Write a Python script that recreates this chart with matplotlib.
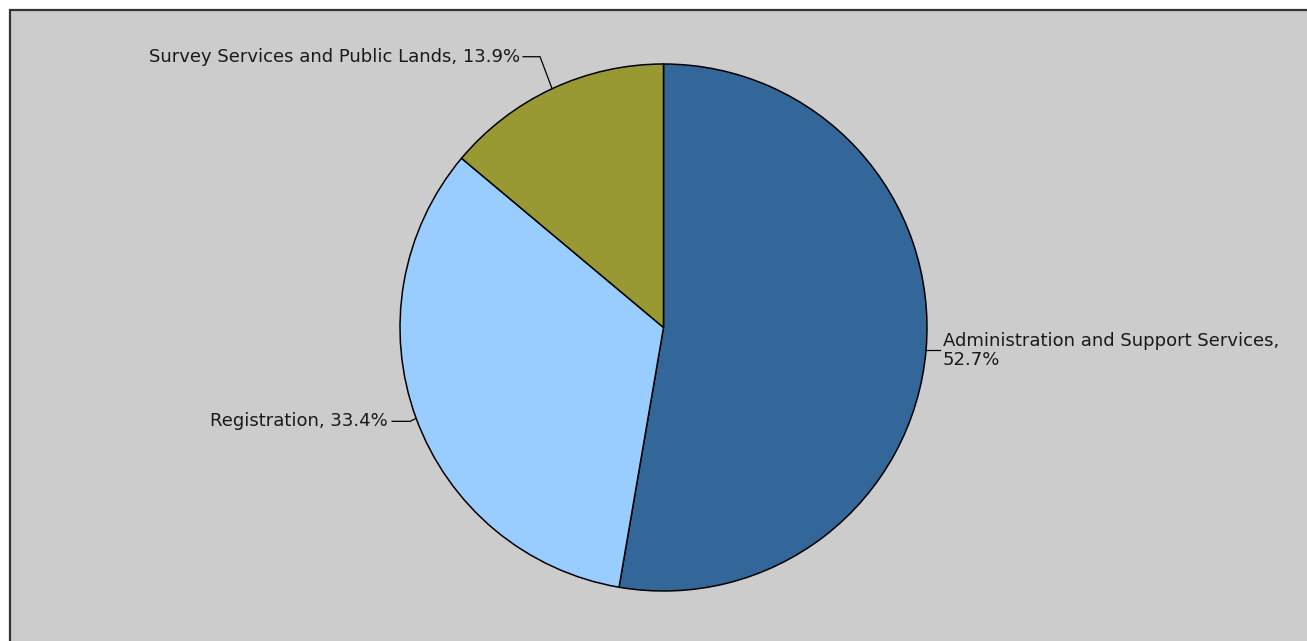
import numpy as np
import matplotlib
matplotlib.use("Agg")
import matplotlib.pyplot as plt
from matplotlib.patches import Rectangle

categories = ["Administration and Support Services", "Registration", "Survey Services and Public Lands"]
values = [52.7, 33.4, 13.9]
colors = ["#336699", "#99ccff", "#999933"]

W, H = 1307, 641
fig = plt.figure(figsize=(W / 100, H / 100), dpi=100)
fig.patch.set_facecolor("white")
ax = fig.add_axes([0, 0, 1, 1])
ax.set_xlim(0, W)
ax.set_ylim(0, H)
ax.set_aspect("equal")
ax.axis("off")

# background panel with border (top/left visible)
ax.add_patch(Rectangle((10, -20), W + 20, H - 10 + 20, facecolor="#cccccc",
                       edgecolor="#333333", lw=1.6, zorder=0))

cx, cy, r = 663.5, H - 327.5, 263.5
wedges, _ = ax.pie(values, colors=colors, startangle=90, counterclock=False,
                   center=(cx, cy), radius=r, frame=True,
                   wedgeprops=dict(edgecolor="black", linewidth=1.1))
ax.set_xlim(0, W)
ax.set_ylim(0, H)
ax.axis("off")

fs = 13.0
tcol = "#1a1a1a"

def edge_pt(w):
    a = np.deg2rad((w.theta1 + w.theta2) / 2)
    return cx + r * np.cos(a), cy + r * np.sin(a)

# Administration (right)
x0, y0 = edge_pt(wedges[0])
ax.plot([x0, x0 + 14], [y0, y0], color="black", lw=0.9)
ax.text(x0 + 17, y0 - 0.5, f"{categories[0]},\n{values[0]}%", ha="left", va="center",
        fontsize=fs, color=tcol, linespacing=1.08)

# Registration (left)
x0, y0 = edge_pt(wedges[1])
ax.plot([x0, x0 - 6, x0 - 24], [y0, y0 - 3, y0 - 3], color="black", lw=0.9)
ax.text(x0 - 28, y0 - 3, f"{categories[1]}, {values[1]}%", ha="right", va="center",
        fontsize=fs, color=tcol)

# Survey (top left)
x0, y0 = edge_pt(wedges[2])
ax.plot([x0, x0 - 12, x0 - 29], [y0, y0 + 32, y0 + 32], color="black", lw=0.9)
ax.text(x0 - 32, y0 + 32, f"{categories[2]}, {values[2]}%", ha="right", va="center",
        fontsize=fs, color=tcol)

fig.savefig("out.png", dpi=100, facecolor="white")
